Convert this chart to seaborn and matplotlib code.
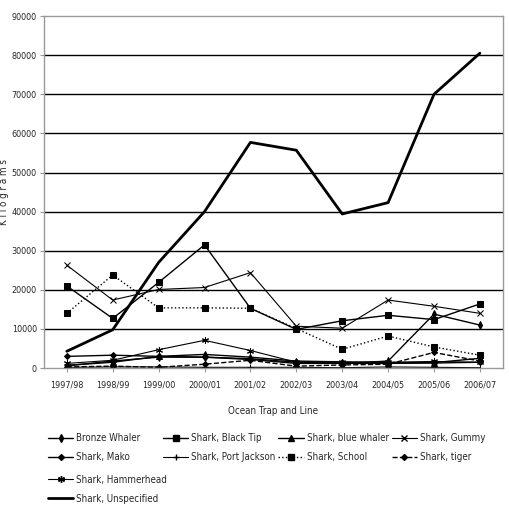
import matplotlib
matplotlib.use("Agg")
import matplotlib.pyplot as plt
import seaborn as sns
from matplotlib.lines import Line2D
from matplotlib.font_manager import FontProperties

# data (kilograms)
years = ["1997/98", "1998/99", "1999/00", "2000/01", "2001/02",
         "2002/03", "2003/04", "2004/05", "2005/06", "2006/07"]
bronze_whaler = [600, 1800, 2800, 2800, 2200, 1200, 1200, 1800, 13800, 11000]
black_tip = [21000, 12700, 21900, 31500, 15300, 9900, 12100, 13500, 12400, 16400]
blue_whaler = [700, 1500, 3000, 3500, 2800, 1800, 1600, 1400, 1400, 2500]
gummy = [26300, 17400, 20100, 20600, 24400, 10700, 10200, 17400, 15800, 14000]
mako = [3000, 3300, 3000, 2800, 2400, 1500, 1200, 1200, 1300, 1500]
port_jackson = [200, 300, 300, 200, 200, 200, 100, 300, 200, 100]
school = [14000, 23800, 15400, 15400, 15300, 10100, 4800, 8200, 5400, 3300]
tiger = [300, 500, 200, 1000, 2000, 500, 800, 1000, 4000, 1800]
hammerhead = [1200, 2000, 4700, 7100, 4500, 1500, 1500, 1500, 1700, 1500]
unspecified = [4300, 9800, 27000, 40000, 57700, 55700, 39400, 42300, 70000, 80500]

series = [
    ("Bronze Whaler", bronze_whaler, "d", "-", 1.0, 4),
    ("Shark, Black Tip", black_tip, "s", "-", 1.0, 4),
    ("Shark, blue whaler", blue_whaler, "^", "-", 1.0, 4),
    ("Shark, Gummy", gummy, "x", "-", 0.8, 4),
    ("Shark, Mako", mako, "D", "-", 1.0, 3),
    ("Shark, Port Jackson", port_jackson, "+", "-", 0.8, 5),
    ("Shark, School", school, "s", ":", 1.0, 4),
    ("Shark, tiger", tiger, "D", "--", 1.0, 3),
    ("Shark, Hammerhead", hammerhead, (6, 2, 0), "-", 0.8, 5),
    ("Shark, Unspecified", unspecified, None, "-", 2.0, 0),
]

sns.set_style("white")
small = FontProperties(family="DejaVu Sans", stretch="condensed", size=7)
ticks = FontProperties(family="DejaVu Sans", stretch="condensed", size=6.5)

fig = plt.figure(figsize=(5.1, 5.17), dpi=100)
ax = fig.add_axes([0.086, 0.288, 0.9, 0.681])

handles = []
for name, vals, mk, ls, lw, ms in series:
    sns.lineplot(x=years, y=vals, ax=ax, color="black", marker=mk,
                 linestyle=ls, linewidth=lw, markersize=ms,
                 markeredgecolor="black", markerfacecolor="black")
    handles.append(Line2D([], [], color="black", marker=mk, linestyle=ls,
                          linewidth=lw, markersize=ms, label=name))

ax.set_xlim(-0.5, 9.5)
ax.set_ylim(0, 90000)
ax.set_yticks(range(0, 90001, 10000))
ax.yaxis.grid(True, color="black", linewidth=1)
ax.get_ygridlines()[-1].set_visible(False)
ax.get_ygridlines()[0].set_visible(False)
ax.set_axisbelow(True)
for s in ax.spines.values():
    s.set_color("#999999")
    s.set_linewidth(1)
ax.tick_params(axis="both", length=3, color="#999999", pad=2,
               left=True, bottom=True)
ax.tick_params(axis="x", pad=6)
for lab in ax.get_xticklabels() + ax.get_yticklabels():
    lab.set_fontproperties(ticks)

ax.set_xlabel("Ocean Trap and Line", fontproperties=small, labelpad=12)
ax.set_ylabel("K i l o g r a m s", fontproperties=small)
ax.yaxis.set_label_coords(-0.076, 0.5)

# legend: four columns of two rows, then two single rows below
col_x = [0.094, 0.320, 0.546, 0.768]
for c in range(4):
    fig.legend(handles=[handles[c], handles[c + 4]], loc="upper left",
               bbox_to_anchor=(col_x[c], 0.162), frameon=False, prop=small,
               handlelength=2.6, handletextpad=0.3, labelspacing=0.95,
               borderaxespad=0, borderpad=0)
fig.legend(handles=handles[8:], loc="upper left", ncol=1,
           bbox_to_anchor=(col_x[0], 0.082), frameon=False, prop=small,
           handlelength=2.6, handletextpad=0.3, labelspacing=0.95,
           borderaxespad=0, borderpad=0)

fig.savefig("out.png", dpi=100)
